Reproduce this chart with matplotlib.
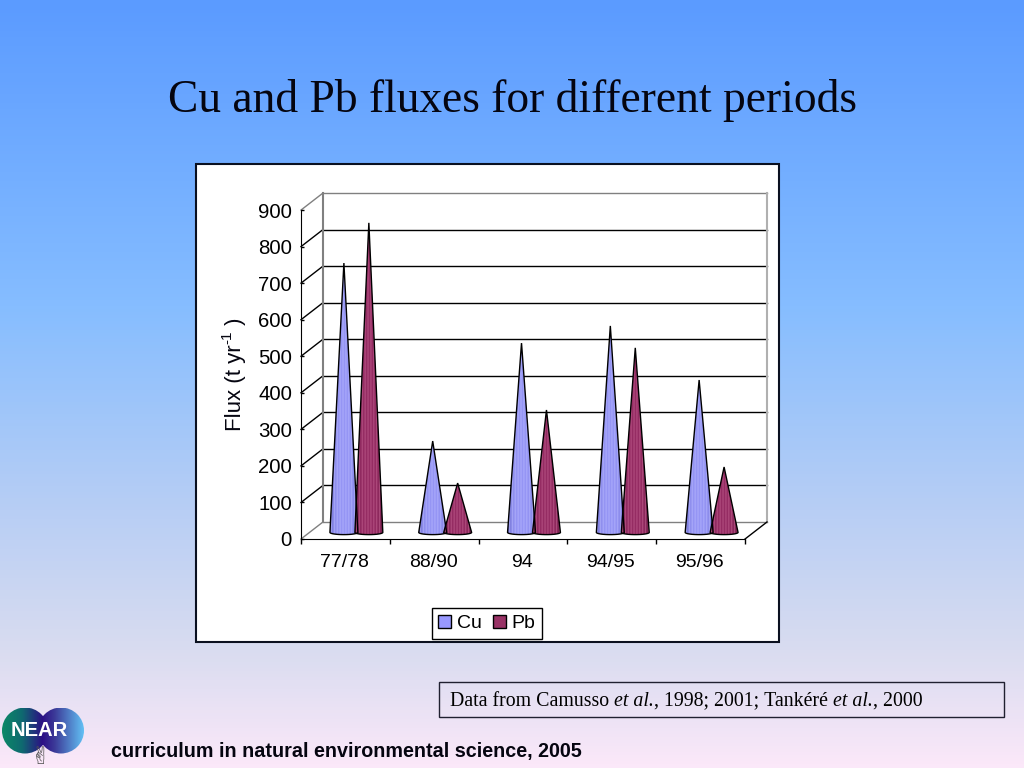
import matplotlib
matplotlib.use('Agg')
import matplotlib.pyplot as plt
import numpy as np
from matplotlib.patches import Circle, Patch, Polygon, Rectangle
from matplotlib.colors import LinearSegmentedColormap

plt.rcParams['font.family'] = ['Liberation Sans', 'DejaVu Sans']

periods = ['77/78', '88/90', '94', '94/95', '95/96']
cu = [737, 250, 518, 565, 417]
pb = [847, 135, 335, 505, 179]
yticks = [0, 100, 200, 300, 400, 500, 600, 700, 800, 900]
source = [('Data from Camusso ', 'normal'), ('et al.', 'italic'), (', 1998; 2001; Tankéré ', 'normal'),
          ('et al.', 'italic'), (', 2000', 'normal')]

W, H = 1024, 768
fig = plt.figure(figsize=(W / 100, H / 100), dpi=100)
renderer = fig.canvas.get_renderer()

# slide background and everything that is not the chart, in pixels
bg = fig.add_axes([0, 0, 1, 1])
bg.set_xlim(0, W)
bg.set_ylim(H, 0)
bg.axis('off')
bg_cmap = LinearSegmentedColormap.from_list('slide', [
    (0.0, '#5b9bff'), (0.4, '#86bdff'), (0.65, '#b5cdf5'),
    (0.85, '#d9dcf0'), (1.0, '#fbe8f9')])
bg.imshow(np.linspace(0, 1, 256).reshape(-1, 1), cmap=bg_cmap, aspect='auto',
          extent=[0, W, H, 0], zorder=0)
bg.add_patch(Rectangle((196, 164), 583, 478, fc='white', ec='#0a1020', lw=1.5, zorder=1))
bg.add_patch(Rectangle((439, 682), 565, 35, fc='none', ec='#202030', lw=1, zorder=1))
bg.text(512, 100, 'Cu and Pb fluxes for different periods', family='Liberation Serif',
        fontsize=32.8, ha='center', va='center', color='#050510')
bg.text(111, 752, 'curriculum in natural environmental science, 2005', fontweight='bold',
        fontsize=14.25, ha='left', va='center', color='#050510')

# source note, mixed upright and italic
xpos = 450
for piece, style in source:
    t = bg.text(xpos, 705.5, piece, family='Liberation Serif', style=style, fontsize=14.35,
                ha='left', va='baseline', color='black')
    t.set_text(piece.replace(' ', '\u00a0'))
    xpos += t.get_window_extent(renderer).width

# NEAR logo
logo_cmap = LinearSegmentedColormap.from_list('logo', [
    (0.0, '#0c8a66'), (0.25, '#0f6a70'), (0.5, '#2c0f85'), (0.65, '#3c3a98'), (1.0, '#62c0f4')])
for cx in (25, 61):
    logo = bg.imshow(np.linspace(0, 1, 128).reshape(1, -1), cmap=logo_cmap, aspect='auto',
                     extent=[1, 84, 754, 708], zorder=2)
    logo.set_clip_path(Circle((cx, 730.5), 23, transform=bg.transData))
bg.set_xlim(0, W)
bg.set_ylim(H, 0)
bg.text(39, 731, 'NEAR', color='white', fontweight='bold', fontsize=14.5, ha='center',
        va='center', zorder=3)
bg.text(41, 757, '\u270c', family='DejaVu Sans', color='#505050', fontsize=17, ha='center',
        va='center', zorder=3)

# y label is built in pieces so the superscript keeps a short hyphen
yl = 431
for piece, size, base_x in [('Flux\u00a0(t\u00a0yr', 16, 241), ('-1', 11, 231), ('\u00a0)', 16, 241)]:
    t = bg.text(base_x, yl, piece, rotation=90, fontsize=size, ha='left', va='baseline',
                rotation_mode='anchor', color='#050510', zorder=3)
    yl -= t.get_window_extent(renderer).height

# chart axes: lower left is the front corner, depth is drawn by hand
x0, x1, y0, y1 = 301, 767, 539, 193
ax = fig.add_axes([x0 / W, 1 - y0 / H, (x1 - x0) / W, (y0 - y1) / H])
ax.patch.set_alpha(0)
px_x = 89.0
px_y = 0.3655
dx = 22 / px_x
dy = 17 / px_y
ax.set_xlim(-0.5, 4.5 + dx)
ax.set_ylim(0, (y0 - y1) / px_y)

left, right = -0.5, 4.5
for v in yticks:
    c = '#808080' if v in (0, 900) else 'black'
    ax.plot([left, left + dx], [v, v + dy], color=c, lw=1, zorder=1, clip_on=False)
    ax.plot([left + dx, right + dx], [v + dy, v + dy], color=c, lw=1, zorder=1, clip_on=False)
ax.plot([left + dx, left + dx], [dy, 900 + dy], color='#808080', lw=1.5, zorder=1, clip_on=False)
ax.plot([right + dx, right + dx], [dy, 900 + dy], color='#b0b0b0', lw=1.5, zorder=1, clip_on=False)
ax.plot([right, right + dx], [0, dy], color='black', lw=1, zorder=1, clip_on=False)

ax.spines['top'].set_visible(False)
ax.spines['right'].set_visible(False)
ax.spines['left'].set_bounds(0, 900)
ax.spines['bottom'].set_bounds(left, right)
ax.set_yticks(yticks)
ax.set_xticks(np.arange(left, right + 1))
ax.set_xticklabels([])
ax.set_xticks(np.arange(len(periods)) - 0.012, labels=periods, minor=True)
ax.tick_params(axis='x', which='minor', length=0, labelsize=14, pad=11)
ax.tick_params(axis='x', which='major', length=3.5, width=1)
ax.tick_params(axis='y', direction='in', length=2, width=1, labelsize=14.7, pad=6.5)


def shades(base, light, dark):
    # vertical facets of the cone: dark at the rims, lighter stripes in between
    n = 29
    t = np.abs(np.linspace(-1, 1, n))
    out = []
    for i, a in enumerate(t):
        c = np.array(base) * (1 - a ** 4) + np.array(dark) * a ** 4
        if i % 3 == 1:
            c = c * 0.45 + np.array(light) * 0.55
        out.append(c)
    return np.array([out]) / 255.0


def cone(x, value, base, light, dark):
    hw = 14 / px_x
    b = 18
    arc = np.linspace(np.pi, 2 * np.pi, 30)
    pts = [(x + hw * np.cos(a), b + 6 * np.sin(a)) for a in arc]
    pts.append((x, b + value))
    poly = Polygon(pts, closed=True, fc='none', ec='black', lw=1, zorder=4, transform=ax.transData,
                   clip_on=False)
    im = ax.imshow(shades(base, light, dark), aspect='auto', zorder=3,
                   extent=[x - hw, x + hw, b - 6, b + value], interpolation='bilinear')
    ax.add_patch(poly)
    im.set_clip_path(poly)


for i in range(len(periods)):
    cone(i - 0.017, cu[i], (150, 150, 245), (190, 190, 255), (110, 110, 205))
    cone(i + 0.264, pb[i], (150, 45, 100), (205, 110, 155), (115, 30, 75))
ax.set_xlim(-0.5, 4.5 + dx)
ax.set_ylim(0, (y0 - y1) / px_y)

handles = [Patch(fc='#9999ff', ec='black', label='Cu'), Patch(fc='#993366', ec='black', label='Pb')]
fig.legend(handles=handles, loc='center', bbox_to_anchor=(487 / W, 1 - 623.5 / H), ncol=2,
           fontsize=14, fancybox=False, framealpha=1, edgecolor='black', handlelength=0.67,
           handleheight=0.67, handletextpad=0.3, columnspacing=0.55, borderpad=0.35)

fig.savefig('out.png', dpi=100)
